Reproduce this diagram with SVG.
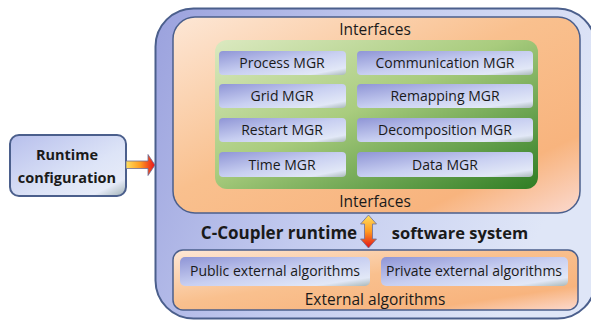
<svg xmlns="http://www.w3.org/2000/svg" width="591" height="322" viewBox="0 0 591 322">
<defs>
<linearGradient id="gOuter" x1="0" y1="0" x2="1" y2="0.3">
<stop offset="0" stop-color="#9aa1dd"/>
<stop offset="0.5" stop-color="#c3cbef"/>
<stop offset="1" stop-color="#dfe6f7"/>
</linearGradient>
<linearGradient id="gOrange2" x1="0" y1="0" x2="1" y2="1">
<stop offset="0" stop-color="#fde7d6"/>
<stop offset="0.45" stop-color="#f9c08e"/>
<stop offset="0.8" stop-color="#f8b47e"/>
<stop offset="1" stop-color="#fbd9cf"/>
</linearGradient>
<linearGradient id="gGreen" x1="0" y1="0" x2="1" y2="1">
<stop offset="0" stop-color="#dbe9c0"/>
<stop offset="0.45" stop-color="#a9cc7e"/>
<stop offset="1" stop-color="#2f7d24"/>
</linearGradient>
<linearGradient id="gBox" x1="0" y1="0" x2="1" y2="1">
<stop offset="0" stop-color="#8f95d6"/>
<stop offset="0.5" stop-color="#c8cff1"/>
<stop offset="0.85" stop-color="#e2e8f7"/>
<stop offset="1" stop-color="#a9b8b8"/>
</linearGradient>
<linearGradient id="gRun" x1="0" y1="0" x2="1" y2="1">
<stop offset="0" stop-color="#b7bfec"/>
<stop offset="0.6" stop-color="#dde4f7"/>
<stop offset="0.85" stop-color="#e6ebf8"/>
<stop offset="1" stop-color="#9fb0b4"/>
</linearGradient>
<linearGradient id="gArrowH" x1="0" y1="0" x2="1" y2="0">
<stop offset="0" stop-color="#ffe060"/>
<stop offset="0.5" stop-color="#ff9a20"/>
<stop offset="1" stop-color="#e8101a"/>
</linearGradient>
<linearGradient id="gArrowV" x1="0" y1="0" x2="0" y2="1">
<stop offset="0" stop-color="#ffe060"/>
<stop offset="0.5" stop-color="#ff9a20"/>
<stop offset="1" stop-color="#e0101a"/>
</linearGradient>
</defs>
<style>
.t{font-family:"Open Sans","Liberation Sans",sans-serif;fill:#1a1a1a;text-anchor:middle}
.m{font-size:14px}
.l{font-size:15.5px}
.b{font-weight:bold}
.box{fill:url(#gBox);stroke:none}
</style>
<g id="outer">
<rect x="155.5" y="8.5" width="440" height="310" rx="38" fill="url(#gOuter)" stroke="#4b5f8c" stroke-width="2"/>
</g>
<g id="interfaces">
<rect x="173" y="17" width="407" height="196" rx="22" fill="url(#gOrange2)" stroke="#4b5f8c" stroke-width="1.5"/>
<text class="t l" x="375" y="35">Interfaces</text>
<text class="t l" x="375" y="207">Interfaces</text>
</g>
<g id="managers">
<rect x="215" y="40" width="323" height="149" rx="12" fill="url(#gGreen)"/>
</g>
<g id="process"><rect class="box" x="219" y="51" width="127" height="24" rx="4"/><text class="t m" x="282" y="68">Process MGR</text></g>
<g id="grid"><rect class="box" x="219" y="84" width="127" height="24" rx="4"/><text class="t m" x="282" y="101">Grid MGR</text></g>
<g id="restart"><rect class="box" x="219" y="118" width="127" height="24" rx="4"/><text class="t m" x="282" y="135">Restart MGR</text></g>
<g id="time"><rect class="box" x="219" y="152" width="127" height="25" rx="4"/><text class="t m" x="282" y="170">Time MGR</text></g>
<g id="communication"><rect class="box" x="357" y="51" width="176" height="24" rx="4"/><text class="t m" x="445" y="68">Communication MGR</text></g>
<g id="remapping"><rect class="box" x="357" y="84" width="176" height="24" rx="4"/><text class="t m" x="445" y="101">Remapping MGR</text></g>
<g id="decomposition"><rect class="box" x="357" y="118" width="176" height="24" rx="4"/><text class="t m" x="445" y="135">Decomposition MGR</text></g>
<g id="data"><rect class="box" x="357" y="152" width="176" height="25" rx="4"/><text class="t m" x="445" y="170">Data MGR</text></g>
<g id="system-label">
<text class="t b" style="font-size:17px" x="279" y="239">C-Coupler runtime</text>
<text class="t b" style="font-size:16.5px" x="460" y="239">software system</text>
</g>
<g id="external">
<rect x="173" y="250" width="405" height="60" rx="10" fill="url(#gOrange2)" stroke="#4b5f8c" stroke-width="1.5"/>
<text class="t l" x="375" y="305">External algorithms</text>
</g>
<g id="public"><rect class="box" x="180" y="257" width="190" height="29" rx="5"/><text class="t m" x="275" y="276">Public external algorithms</text></g>
<g id="private"><rect class="box" x="381" y="257" width="187" height="29" rx="5"/><text class="t m" x="474" y="276">Private external algorithms</text></g>
<g id="runtime">
<rect x="10" y="135" width="116" height="61" rx="9" fill="url(#gRun)" stroke="#4b5f8c" stroke-width="2"/>
<text class="t b" style="font-size:14.5px" x="67" y="160">Runtime</text>
<text class="t b" style="font-size:14.5px" x="67" y="183">configuration</text>
</g>
<g id="connectors">
<path d="M126 161 H148 V154.5 L155 165 L148 175.5 V168.5 H126 Z" fill="url(#gArrowH)" stroke="#6b6f9a" stroke-width="0.8"/>
<path d="M368.5 215 L376.5 224 H372.5 V239 H376.5 L368.5 248 L360.5 239 H364.5 V224 H360.5 Z" fill="url(#gArrowV)" stroke="#6b6f9a" stroke-width="0.8"/>
</g>
</svg>
